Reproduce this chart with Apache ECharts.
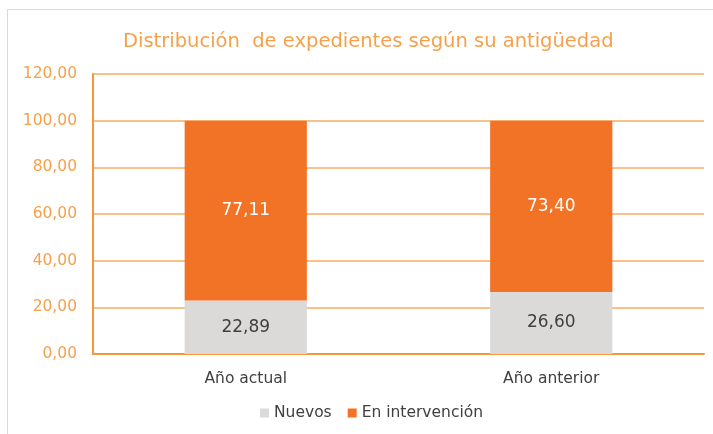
<!DOCTYPE html>
<html>
<head>
<meta charset="utf-8">
<script src="https://cdn.jsdelivr.net/npm/echarts@6/dist/echarts.min.js"></script>
<style>
  html, body { margin: 0; padding: 0; background: #fff; }
  #chart { width: 713px; height: 434px; }
</style>
</head>
<body>
<div id="chart"></div>
<script>
// datos
const categories = ['Año actual', 'Año anterior']
const nuevos = [22.89, 26.60]
const enIntervencion = [77.11, 73.40]

const fmt = v => v.toFixed(2).replace('.', ',')
const font = 'DejaVu Sans, Verdana, sans-serif'

const chart = echarts.init(document.getElementById('chart'))
chart.setOption({
  animation: false,
  textStyle: { fontFamily: font },
  graphic: [{
    type: 'rect',
    shape: { x: 7.5, y: 9.5, width: 720, height: 440 },
    style: { fill: 'none', stroke: '#d9d9d9', lineWidth: 1 },
    silent: true
  }],
  title: {
    text: 'Distribución  de expedientes según su antigüedad',
    left: 118,
    top: 27,
    textStyle: { color: '#f7a04a', fontSize: 19.5, fontWeight: 'normal', fontFamily: font }
  },
  grid: { left: 93, right: 9, top: 74, bottom: 80 },
  legend: {
    bottom: 8,
    left: 255,
    itemWidth: 9,
    itemHeight: 9,
    itemGap: 16,
    icon: 'rect',
    textStyle: { color: '#404040', fontSize: 15.5, fontFamily: font },
    data: ['Nuevos', 'En intervención']
  },
  xAxis: {
    type: 'category',
    data: categories,
    axisLine: { lineStyle: { color: '#f7963a', width: 2 } },
    axisTick: { show: false },
    axisLabel: { color: '#404040', fontSize: 15.5, margin: 17, fontFamily: font }
  },
  yAxis: {
    type: 'value',
    min: 0,
    max: 120,
    interval: 20,
    axisLine: { show: true, lineStyle: { color: '#f7963a', width: 2 } },
    axisTick: { show: false },
    splitLine: { lineStyle: { color: '#f9ad63', width: 1.5 } },
    axisLabel: { color: '#f7a04a', fontSize: 15.5, margin: 16, formatter: v => fmt(v), fontFamily: font }
  },
  series: [
    {
      name: 'Nuevos',
      type: 'bar',
      stack: 'total',
      barWidth: '40%',
      data: nuevos,
      itemStyle: { color: '#dcdad8' },
      label: { show: true, position: 'inside', color: '#404040', fontSize: 17, fontFamily: font, formatter: p => fmt(p.value) }
    },
    {
      name: 'En intervención',
      type: 'bar',
      stack: 'total',
      barWidth: '40%',
      data: enIntervencion,
      itemStyle: { color: '#f37326' },
      label: { show: true, position: 'inside', color: '#ffffff', fontSize: 17, fontFamily: font, formatter: p => fmt(p.value) }
    }
  ]
})
</script>
</body>
</html>
